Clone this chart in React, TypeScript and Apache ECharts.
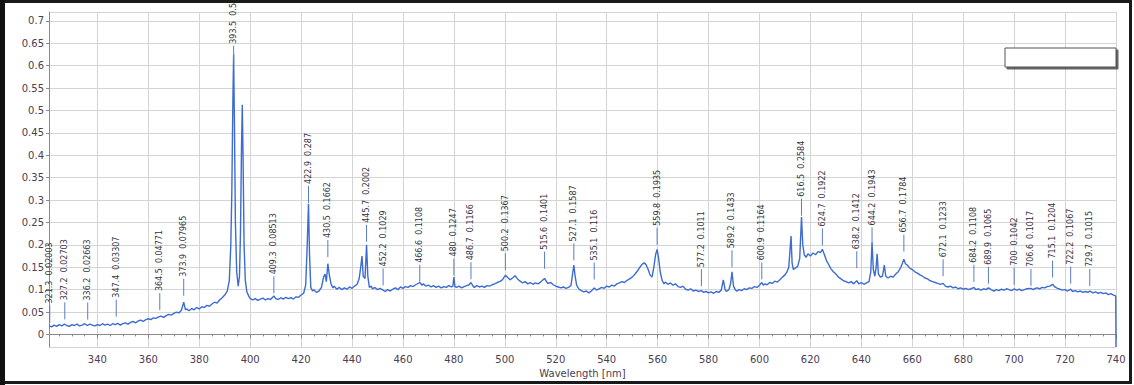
import React, { useEffect, useRef } from "react";
import * as echarts from "echarts";

// Spectrum: [wavelength nm, intensity]
const spectrumUV: number[][] = [
  [321, 0.019], [322, 0.017], [323, 0.021], [324, 0.018], [325, 0.022], [326, 0.019], [327, 0.023], [328, 0.02],
  [329, 0.018], [330, 0.022], [331, 0.02], [332, 0.023], [333, 0.019], [334, 0.021], [335, 0.024], [336, 0.02],
  [337, 0.023], [338, 0.021], [339, 0.019], [340, 0.022], [341, 0.02], [342, 0.024], [343, 0.021], [344, 0.023],
  [345, 0.02], [346, 0.024], [347, 0.022], [348, 0.025], [349, 0.021], [350, 0.024], [351, 0.026], [352, 0.023],
  [353, 0.027], [354, 0.029], [355, 0.026], [356, 0.03], [357, 0.032], [358, 0.029], [359, 0.033], [360, 0.035],
  [361, 0.033], [362, 0.037], [363, 0.036], [364, 0.039], [365, 0.041], [366, 0.038], [367, 0.042], [368, 0.045],
  [369, 0.043], [370, 0.047], [371, 0.05], [372, 0.048], [373, 0.054], [373.9, 0.072], [374.6, 0.055], [375, 0.057],
  [376, 0.053], [377, 0.058], [378, 0.055], [379, 0.06], [380, 0.057], [381, 0.062], [382, 0.06], [383, 0.065],
  [384, 0.063], [385, 0.068], [386, 0.072], [387, 0.07], [388, 0.077], [389, 0.082], [390, 0.088], [391, 0.097],
  [391.8, 0.12], [392.4, 0.2], [392.8, 0.32], [393.2, 0.52], [393.5, 0.625], [393.8, 0.48], [394.2, 0.25],
  [394.7, 0.14], [395.3, 0.108], [395.8, 0.13], [396.2, 0.23], [396.6, 0.42], [396.9, 0.513], [397.2, 0.4],
  [397.6, 0.2], [398.1, 0.12], [398.7, 0.095], [399.5, 0.085], [400, 0.08],
];

const spectrumViolet: number[][] = [
  [401, 0.077], [402, 0.08], [403, 0.076], [404, 0.079], [405, 0.081], [406, 0.077], [407, 0.08], [408, 0.078],
  [409.3, 0.086], [410, 0.08], [411, 0.078], [412, 0.082], [413, 0.079], [414, 0.083], [415, 0.08], [416, 0.082],
  [417, 0.079], [418, 0.084], [419, 0.083], [420, 0.088], [421, 0.092], [421.8, 0.11], [422.4, 0.2], [422.9, 0.292],
  [423.3, 0.18], [423.8, 0.105], [424.5, 0.097], [425, 0.1], [426, 0.094], [427, 0.097], [428, 0.105], [428.8, 0.128],
  [429.4, 0.135], [429.9, 0.118], [430.5, 0.158], [431.1, 0.132], [431.8, 0.112], [432.5, 0.104], [433, 0.108],
  [434, 0.101], [435, 0.105], [436, 0.1], [437, 0.104], [438, 0.101], [439, 0.106], [440, 0.103], [441, 0.108],
  [442, 0.112], [442.8, 0.125], [443.4, 0.15], [443.9, 0.175], [444.4, 0.13], [445.1, 0.125], [445.7, 0.2],
  [446.2, 0.13], [446.8, 0.105], [447.5, 0.108], [448, 0.102], [449, 0.105], [450, 0.1],
];

const spectrumBlue: number[][] = [
  [451, 0.103], [452.2, 0.099], [453, 0.096], [454, 0.1], [455, 0.097], [456, 0.101], [457, 0.104], [458, 0.1],
  [459, 0.106], [460, 0.103], [461, 0.107], [462, 0.105], [463, 0.109], [464, 0.107], [465, 0.111], [466.6, 0.116],
  [467.5, 0.11], [468, 0.113], [469, 0.108], [470, 0.11], [471, 0.106], [472, 0.109], [473, 0.105], [474, 0.108],
  [475, 0.104], [476, 0.107], [477, 0.105], [478, 0.109], [479, 0.106], [479.6, 0.108], [480, 0.128], [480.4, 0.107],
  [481, 0.105], [482, 0.108], [483, 0.104], [484, 0.107], [485, 0.109], [486, 0.111], [486.7, 0.116], [487.5, 0.108],
  [488, 0.105], [489, 0.109], [490, 0.106], [491, 0.108], [492, 0.105], [493, 0.109], [494, 0.108], [495, 0.111],
  [496, 0.113], [497, 0.116], [498, 0.118], [499, 0.122], [500.2, 0.132], [501, 0.128], [502, 0.122], [503, 0.126],
  [504, 0.131], [505, 0.124], [506, 0.119], [507, 0.115], [508, 0.118], [509, 0.113], [510, 0.116], [511, 0.112],
  [512, 0.115], [513, 0.113], [514, 0.117], [515.6, 0.125], [516.5, 0.117], [517, 0.114], [518, 0.116], [519, 0.111],
  [520, 0.108], [521, 0.106], [522, 0.104], [523, 0.106], [524, 0.103], [525, 0.105], [526, 0.11], [526.6, 0.135],
  [527.1, 0.155], [527.6, 0.13], [528.2, 0.11], [529, 0.102], [530, 0.098], [531, 0.095], [532, 0.097], [533, 0.093],
  [534, 0.097], [535.1, 0.104], [536, 0.099], [537, 0.102], [538, 0.105], [539, 0.103], [540, 0.108], [541, 0.106],
  [542, 0.11], [543, 0.108], [544, 0.113], [545, 0.115],
];

const spectrumGreen: number[][] = [
  [546, 0.118], [547, 0.116], [548, 0.121], [549, 0.124], [550, 0.128], [551, 0.134], [552, 0.141], [553, 0.15],
  [554, 0.157], [554.8, 0.16], [555.5, 0.155], [556.3, 0.145], [557, 0.133], [557.8, 0.128], [558.5, 0.15],
  [559.2, 0.178], [559.8, 0.19], [560.4, 0.17], [561, 0.14], [561.8, 0.12], [562.5, 0.113], [563, 0.117], [564, 0.112],
  [565, 0.115], [566, 0.11], [567, 0.113], [568, 0.107], [569, 0.105], [570, 0.108], [571, 0.101], [572, 0.099],
  [573, 0.102], [574, 0.097], [575, 0.099], [576, 0.096], [577.2, 0.098], [578, 0.094], [579, 0.096], [580, 0.093],
  [581, 0.095], [582, 0.092], [583, 0.096], [584, 0.094], [585, 0.099], [585.8, 0.122], [586.5, 0.1], [587, 0.096],
  [588, 0.1], [588.7, 0.115], [589.2, 0.14], [589.8, 0.108], [590.5, 0.1], [591, 0.097], [592, 0.1], [593, 0.098],
  [594, 0.102], [595, 0.1], [596, 0.104], [597, 0.103], [598, 0.107], [599, 0.105], [600, 0.11],
];

const spectrumOrange: number[][] = [
  [600.9, 0.116], [601.5, 0.11], [602, 0.113], [603, 0.111], [604, 0.116], [605, 0.114], [606, 0.119], [607, 0.117],
  [608, 0.122], [609, 0.128], [610, 0.133], [610.8, 0.14], [611.5, 0.15], [612, 0.19], [612.4, 0.22], [612.8, 0.16],
  [613.3, 0.145], [614, 0.148], [615, 0.152], [615.8, 0.17], [616.5, 0.262], [617, 0.2], [617.6, 0.178], [618.3, 0.172],
  [619, 0.18], [620, 0.175], [621, 0.182], [622, 0.178], [623, 0.185], [624, 0.183], [624.7, 0.19], [625.5, 0.178],
  [626.3, 0.165], [627, 0.158], [628, 0.147], [629, 0.14], [630, 0.135], [631, 0.128], [632, 0.124], [633, 0.12],
  [634, 0.118], [635, 0.115], [636, 0.118], [637, 0.113], [638.2, 0.12], [639, 0.113], [640, 0.116], [641, 0.112],
  [642, 0.115], [643, 0.118], [643.7, 0.14], [644.2, 0.205], [644.7, 0.145], [645.3, 0.13], [645.8, 0.15],
  [646.2, 0.18], [646.7, 0.135], [647.5, 0.128], [648.3, 0.13], [649, 0.155], [649.6, 0.13], [650.5, 0.126],
  [651.5, 0.13], [652.5, 0.128], [653.5, 0.135], [654.5, 0.14], [655.5, 0.15], [656.2, 0.16], [656.7, 0.168],
  [657.3, 0.158], [658, 0.155], [659, 0.148], [660, 0.145],
];

const spectrumRed: number[][] = [
  [661, 0.14], [662, 0.137], [663, 0.133], [664, 0.13], [665, 0.126], [666, 0.124], [667, 0.12], [668, 0.118],
  [669, 0.116], [670, 0.114], [671, 0.112], [672.1, 0.114], [673, 0.108], [674, 0.106], [675, 0.108], [676, 0.104],
  [677, 0.106], [678, 0.102], [679, 0.104], [680, 0.101], [681, 0.103], [682, 0.1], [683, 0.102], [684.2, 0.105],
  [685, 0.1], [686, 0.102], [687, 0.099], [688, 0.102], [689, 0.1], [689.9, 0.104], [691, 0.1], [692, 0.097],
  [693, 0.1], [694, 0.098], [695, 0.101], [696, 0.099], [697, 0.102], [698, 0.1], [699, 0.098], [700, 0.102],
  [701, 0.099], [702, 0.101], [703, 0.098], [704, 0.1], [705, 0.102], [706.6, 0.103], [707.5, 0.1], [708, 0.102],
  [709, 0.104], [710, 0.102], [711, 0.105], [712, 0.104], [713, 0.107], [714, 0.108], [715.1, 0.112], [716, 0.106],
  [717, 0.103], [718, 0.101], [719, 0.099], [720, 0.1], [721, 0.097], [722.2, 0.101], [723, 0.096], [724, 0.098],
  [725, 0.095], [726, 0.097], [727, 0.094], [728, 0.096], [729, 0.094], [729.7, 0.097], [731, 0.093], [732, 0.095],
  [733, 0.092], [734, 0.094], [735, 0.091], [736, 0.093], [737, 0.089], [738, 0.091], [739, 0.088], [739.6, 0.087],
  [739.9, 0.085], [740, -0.028],
];

// Peak annotations
const peakWavelengths = [
  321.3, 327.2, 336.2, 347.4, 364.5, 373.9, 393.5, 409.3, 422.9, 430.5, 445.7, 452.2, 466.6, 480, 486.7, 500.2,
  515.6, 527.1, 535.1, 559.8, 577.2, 589.2, 600.9, 616.5, 624.7, 638.2, 644.2, 656.7, 672.1, 684.2, 689.9, 700,
  706.6, 715.1, 722.2, 729.7,
];
const peakValues = [
  "0.02003", "0.02703", "0.02663", "0.03307", "0.04771", "0.07965", "0.5", "0.08513", "0.287", "0.1662", "0.2002",
  "0.1029", "0.1108", "0.1247", "0.1166", "0.1367", "0.1401", "0.1587", "0.116", "0.1935", "0.1011", "0.1433",
  "0.1164", "0.2584", "0.1922", "0.1412", "0.1943", "0.1784", "0.1233", "0.1108", "0.1065", "0.1042", "0.1017",
  "0.1204", "0.1067", "0.1015",
];
// height at which each marker sits (the value, except the 393.5 label which sits near its peak top)
const peakLevels = [
  0.02003, 0.02703, 0.02663, 0.03307, 0.04771, 0.07965, 0.6, 0.08513, 0.287, 0.1662, 0.2002, 0.1029, 0.1108,
  0.1247, 0.1166, 0.1367, 0.1401, 0.1587, 0.116, 0.1935, 0.1011, 0.1433, 0.1164, 0.2584, 0.1922, 0.1412, 0.1943,
  0.1784, 0.1233, 0.1108, 0.1065, 0.1042, 0.1017, 0.1204, 0.1067, 0.1015,
];

const xTitle = "Wavelength [nm]";

export default function App() {
  const ref = useRef<HTMLDivElement>(null);
  useEffect(() => {
    document.body.style.margin = "0";
    if (!ref.current) return;
    const chart = echarts.init(ref.current, null, { renderer: "svg" });
    const spectrum = [
      ...spectrumUV, ...spectrumViolet, ...spectrumBlue, ...spectrumGreen, ...spectrumOrange, ...spectrumRed,
    ];
    const axisColor = "#8a8a8a";
    const labelColor = "#4a4052";
    chart.setOption({
      animation: false,
      backgroundColor: "#ffffff",
      grid: { left: 49, right: 18, top: 12, bottom: 38 },
      xAxis: {
        type: "value",
        min: 321,
        max: 740,
        splitNumber: 21,
        name: xTitle,
        nameLocation: "middle",
        nameGap: 20,
        nameTextStyle: { color: labelColor, fontSize: 10, fontFamily: "DejaVu Sans" },
        axisLine: { show: true, lineStyle: { color: axisColor } },
        axisTick: { show: true, length: 4, lineStyle: { color: axisColor } },
        minorTick: { show: true, splitNumber: 4, length: 2, lineStyle: { color: axisColor } },
        axisLabel: {
          showMinLabel: false,
          showMaxLabel: true,
          color: labelColor,
          fontSize: 10,
          fontFamily: "DejaVu Sans",
          margin: 7,
        },
        splitLine: { show: true, lineStyle: { color: "#d4d4d4", width: 1 } },
      },
      yAxis: {
        type: "value",
        min: -0.028,
        max: 0.72,
        splitNumber: 15,
        axisLine: { show: true, lineStyle: { color: axisColor } },
        axisTick: { show: true, length: 3, lineStyle: { color: axisColor } },
        axisLabel: {
          showMinLabel: false,
          showMaxLabel: false,
          color: labelColor,
          fontSize: 10,
          fontFamily: "DejaVu Sans",
          margin: 5,
          formatter: (v: number) => String(+v.toFixed(2)),
        },
        splitLine: { show: true, lineStyle: { color: "#d4d4d4", width: 1 } },
      },
      series: [
        {
          type: "line",
          data: spectrum,
          showSymbol: false,
          symbol: "none",
          lineStyle: { color: "#3c6cd2", width: 1.4 },
          z: 3,
        },
        {
          type: "custom",
          data: peakWavelengths.map((w, i) => [w, peakLevels[i], i]),
          encode: { x: 0, y: 1 },
          z: 4,
          renderItem: (params: any, api: any) => {
            const p = api.coord([api.value(0), api.value(1)]);
            const i = api.value(2);
            return {
              type: "group",
              children: [
                {
                  type: "line",
                  shape: { x1: p[0], y1: p[1] - 3, x2: p[0], y2: p[1] - 20 },
                  style: { stroke: "#5a7cc4", lineWidth: 1 },
                },
                {
                  type: "text",
                  x: p[0],
                  y: p[1] - 22,
                  rotation: Math.PI / 2,
                  style: {
                    text: `${peakWavelengths[i]}  ${peakValues[i]}`,
                    fill: "#333340",
                    fontSize: 8,
                    fontFamily: "DejaVu Sans",
                    align: "left",
                    verticalAlign: "middle",
                  },
                },
              ],
            };
          },
        },
      ],
      graphic: [
        {
          type: "rect",
          shape: { x: 1005, y: 48, width: 111, height: 19 },
          style: {
            fill: "#ffffff",
            stroke: "#555555",
            lineWidth: 1,
            shadowColor: "rgba(60,60,60,0.8)",
            shadowOffsetX: 2,
            shadowOffsetY: 2,
            shadowBlur: 1,
          },
          z: 10,
        },
        {
          type: "rect",
          shape: { x: 1.5, y: 1.5, width: 1129, height: 381 },
          style: { fill: "none", stroke: "#1a1a1a", lineWidth: 3 },
          z: 20,
        },
        {
          type: "rect",
          shape: { x: 0, y: 0, width: 5, height: 385 },
          style: { fill: "#111111" },
          z: 20,
        },
      ],
    });
    return () => chart.dispose();
  }, []);
  return <div ref={ref} style={{ width: 1134, height: 385 }} />;
}
